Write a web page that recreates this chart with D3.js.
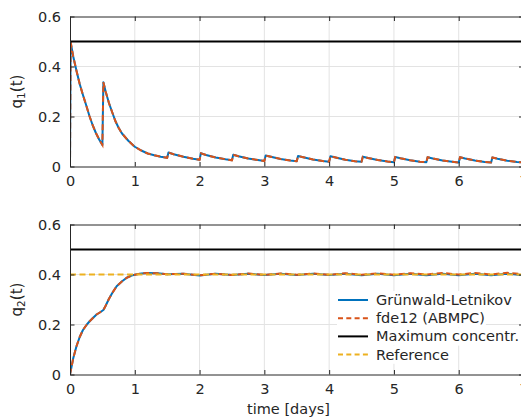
<!DOCTYPE html>
<html>
<head>
<meta charset="utf-8">
<script src="https://cdn.jsdelivr.net/npm/d3@7"></script>
<style>
  html, body { margin: 0; padding: 0; background: #fff; }
  svg { display: block; font-family: "DejaVu Sans", sans-serif; }
</style>
</head>
<body>
<div id="chart"></div>
<script>
// Drug concentration plots (q1, q2) over time

const dayTicks = [0, 1, 2, 3, 4, 5, 6, 7];
const concTicks = [0, 0.2, 0.4, 0.6];
const maxConc = 0.5;
const refLevel = 0.4;

const q1Time = [0, 0.01, 0.05, 0.1, 0.15, 0.2, 0.25, 0.3, 0.35, 0.4, 0.45, 0.5,
    0.515, 0.55, 0.6, 0.65, 0.7, 0.75, 0.8, 0.9, 1.0, 1.1, 1.2, 1.3, 1.4, 1.5,
    1.52, 1.6, 1.75, 1.9, 2.0,
    2.02, 2.1, 2.25, 2.4, 2.5,
    2.52, 2.6, 2.75, 2.9, 3.0,
    3.02, 3.1, 3.25, 3.4, 3.5,
    3.52, 3.6, 3.75, 3.9, 4.0,
    4.02, 4.1, 4.25, 4.4, 4.5,
    4.52, 4.6, 4.75, 4.9, 5.0,
    5.02, 5.1, 5.25, 5.4, 5.5,
    5.52, 5.6, 5.75, 5.9, 6.0,
    6.02, 6.1, 6.25, 6.4, 6.5,
    6.52, 6.6, 6.75, 6.9, 7.0];

const q1GL = [0, 0.497, 0.44, 0.383, 0.33, 0.286, 0.245, 0.202, 0.165, 0.134, 0.108, 0.086,
    0.337, 0.3, 0.255, 0.218, 0.182, 0.155, 0.133, 0.103, 0.079, 0.064, 0.052, 0.045, 0.039, 0.035,
    0.056, 0.049, 0.039, 0.031, 0.027,
    0.053, 0.046, 0.036, 0.029, 0.025,
    0.047, 0.041, 0.032, 0.026, 0.022,
    0.044, 0.039, 0.030, 0.024, 0.021,
    0.042, 0.037, 0.028, 0.022, 0.019,
    0.041, 0.036, 0.027, 0.021, 0.019,
    0.039, 0.034, 0.026, 0.020, 0.017,
    0.038, 0.033, 0.025, 0.019, 0.017,
    0.037, 0.032, 0.024, 0.019, 0.016,
    0.037, 0.032, 0.024, 0.018, 0.016,
    0.036, 0.031, 0.023, 0.018, 0.016];

const q1Fde = [0, 0.497, 0.44, 0.383, 0.33, 0.286, 0.245, 0.202, 0.165, 0.134, 0.108, 0.086,
    0.337, 0.3, 0.255, 0.218, 0.182, 0.155, 0.133, 0.103, 0.079, 0.064, 0.052, 0.045, 0.039, 0.035,
    0.056, 0.049, 0.039, 0.031, 0.027,
    0.053, 0.046, 0.036, 0.029, 0.025,
    0.047, 0.041, 0.032, 0.026, 0.022,
    0.044, 0.039, 0.030, 0.024, 0.021,
    0.042, 0.037, 0.028, 0.022, 0.019,
    0.041, 0.036, 0.027, 0.021, 0.019,
    0.039, 0.034, 0.026, 0.020, 0.017,
    0.038, 0.033, 0.025, 0.019, 0.017,
    0.037, 0.032, 0.024, 0.019, 0.016,
    0.037, 0.032, 0.024, 0.018, 0.016,
    0.036, 0.031, 0.023, 0.018, 0.016];

const q2Time = [0, 0.05, 0.1, 0.15, 0.2, 0.26, 0.3, 0.35, 0.41, 0.46, 0.515, 0.55,
    0.6, 0.65, 0.72, 0.8, 0.875, 0.95, 1.0, 1.1, 1.2, 1.35, 1.5,
    1.75, 2.0, 2.25, 2.5, 2.75, 3.0, 3.25, 3.5, 3.75, 4.0, 4.25,
    4.5, 4.75, 5.0, 5.25, 5.5, 5.75, 6.0, 6.25, 6.5, 6.75, 7.0];

const q2GL = [0, 0.065, 0.113, 0.15, 0.178, 0.2, 0.212, 0.225, 0.24, 0.248, 0.258, 0.275,
    0.302, 0.325, 0.353, 0.372, 0.387, 0.396, 0.399, 0.404, 0.406, 0.405, 0.401,
    0.403, 0.396, 0.403, 0.398, 0.403, 0.398, 0.403, 0.398, 0.403, 0.398, 0.403,
    0.397, 0.403, 0.397, 0.403, 0.397, 0.403, 0.397, 0.403, 0.397, 0.403, 0.397];

const q2Fde = [0, 0.065, 0.113, 0.15, 0.178, 0.2, 0.212, 0.225, 0.24, 0.248, 0.258, 0.275,
    0.302, 0.325, 0.353, 0.372, 0.387, 0.396, 0.399, 0.404, 0.406, 0.405, 0.401,
    0.403, 0.397, 0.403, 0.398, 0.404, 0.398, 0.404, 0.399, 0.404, 0.399, 0.405,
    0.399, 0.405, 0.399, 0.405, 0.400, 0.406, 0.400, 0.406, 0.400, 0.407, 0.401];

const legendLabels = ['Grünwald-Letnikov', 'fde12 (ABMPC)', 'Maximum concentr.', 'Reference'];

const colors = { gl: '#0072BD', fde: '#D95319', max: '#000000', ref: '#EDB120' };
const axisColor = '#262626';
const fontSize = '14.5px';

const W = 521, H = 419;
const svg = d3.select('#chart').append('svg')
    .attr('width', W)
    .attr('height', H);

const x = d3.scaleLinear().domain([0, 7]).range([70, 523.5]);

function drawPanel(top, bottom, id, series, showRef, sub) {
    const y = d3.scaleLinear().domain([0, 0.6]).range([bottom, top]);
    const g = svg.append('g');

    // Grid
    g.append('g').selectAll('line').data(dayTicks.slice(1, -1)).enter().append('line')
        .attr('x1', d => x(d)).attr('x2', d => x(d))
        .attr('y1', top).attr('y2', bottom)
        .attr('stroke', '#e3e3e3').attr('stroke-width', 1);
    g.append('g').selectAll('line').data(concTicks.slice(1, -1)).enter().append('line')
        .attr('x1', x(0)).attr('x2', x(7))
        .attr('y1', d => y(d)).attr('y2', d => y(d))
        .attr('stroke', '#e3e3e3').attr('stroke-width', 1);

    // Clip
    svg.append('clipPath').attr('id', id)
        .append('rect')
        .attr('x', x(0)).attr('y', top - 2)
        .attr('width', x(7) - x(0)).attr('height', bottom - top + 4);

    const plot = g.append('g').attr('clip-path', `url(#${id})`);

    const line = d3.line()
        .x(d => x(d[0]))
        .y(d => y(d[1]));

    plot.append('path')
        .datum(d3.zip(series.t, series.gl))
        .attr('fill', 'none')
        .attr('stroke', colors.gl)
        .attr('stroke-width', 2)
        .attr('stroke-linejoin', 'round')
        .attr('d', line);

    plot.append('path')
        .datum(d3.zip(series.t, series.fde))
        .attr('fill', 'none')
        .attr('stroke', colors.fde)
        .attr('stroke-width', 2)
        .attr('stroke-dasharray', '6,3.5')
        .attr('d', line);

    plot.append('line')
        .attr('x1', x(0)).attr('x2', x(7))
        .attr('y1', y(maxConc)).attr('y2', y(maxConc))
        .attr('stroke', colors.max)
        .attr('stroke-width', 2);

    if (showRef) {
        plot.append('line')
            .attr('x1', x(0)).attr('x2', x(7))
            .attr('y1', y(refLevel)).attr('y2', y(refLevel))
            .attr('stroke', colors.ref)
            .attr('stroke-width', 2)
            .attr('stroke-dasharray', '6,3.5');
    }

    // Axes box with inward ticks
    const tl = 4.5;
    g.append('g')
        .attr('transform', `translate(0,${bottom})`)
        .call(d3.axisBottom(x).tickValues(dayTicks).tickSizeInner(-tl).tickSizeOuter(0)
            .tickPadding(9).tickFormat(d3.format('d')))
        .call(a => a.select('.domain').attr('stroke', axisColor));
    g.append('g')
        .attr('transform', `translate(0,${top})`)
        .call(d3.axisTop(x).tickValues(dayTicks).tickSizeInner(-tl).tickSizeOuter(0).tickFormat(''))
        .call(a => a.select('.domain').attr('stroke', axisColor));
    g.append('g')
        .attr('transform', `translate(${x(0)},0)`)
        .call(d3.axisLeft(y).tickValues(concTicks).tickSizeInner(-tl).tickSizeOuter(0).tickPadding(9)
            .tickFormat(d => d === 0 ? '0' : d3.format('.1f')(d)))
        .call(a => a.select('.domain').attr('stroke', axisColor));
    g.append('g')
        .attr('transform', `translate(${x(7)},0)`)
        .call(d3.axisRight(y).tickValues(concTicks).tickSizeInner(-tl).tickSizeOuter(0).tickFormat(''))
        .call(a => a.select('.domain').attr('stroke', axisColor));

    g.selectAll('.tick line').attr('stroke', axisColor);
    g.selectAll('.tick text')
        .attr('fill', axisColor)
        .attr('font-size', fontSize)
        .attr('font-family', '"DejaVu Sans", sans-serif');

    // Y label q_n(t)
    const lab = g.append('text')
        .attr('transform', `translate(22,${(top + bottom) / 2}) rotate(-90)`)
        .attr('text-anchor', 'middle')
        .attr('fill', axisColor)
        .attr('font-size', '15px');
    lab.append('tspan').text('q');
    lab.append('tspan').attr('font-size', '10.5px').attr('dy', 3).text(sub);
    lab.append('tspan').attr('dy', -3).text('(t)');

    return y;
}

drawPanel(16.5, 166.5, 'clip1', { t: q1Time, gl: q1GL, fde: q1Fde }, false, '1');
drawPanel(224.5, 374.5, 'clip2', { t: q2Time, gl: q2GL, fde: q2Fde }, true, '2');

// X label
svg.append('text')
    .attr('x', 288.5)
    .attr('y', 414)
    .attr('text-anchor', 'middle')
    .attr('fill', axisColor)
    .attr('font-size', fontSize)
    .text('time [days]');

// Legend (no border, each entry on a white background)
const legend = svg.append('g');
const legendStyles = [
    { color: colors.gl, dash: null },
    { color: colors.fde, dash: '5,3.3' },
    { color: colors.max, dash: null },
    { color: colors.ref, dash: '5,3.3' }
];
legendLabels.forEach((label, i) => {
    const cy = 300 + i * 18.2;
    const row = legend.append('g');
    const bg = row.append('rect')
        .attr('x', 337)
        .attr('y', cy - 9)
        .attr('height', 18.2)
        .attr('fill', '#fff');
    row.append('line')
        .attr('x1', 338).attr('x2', 368)
        .attr('y1', cy).attr('y2', cy)
        .attr('stroke', legendStyles[i].color)
        .attr('stroke-width', 2)
        .attr('stroke-dasharray', legendStyles[i].dash);
    const txt = row.append('text')
        .attr('x', 376)
        .attr('y', cy + 5)
        .attr('fill', axisColor)
        .attr('font-size', fontSize)
        .text(label);
    bg.attr('width', 376 - 337 + txt.node().getComputedTextLength() + 1);
});
</script>
</body>
</html>
